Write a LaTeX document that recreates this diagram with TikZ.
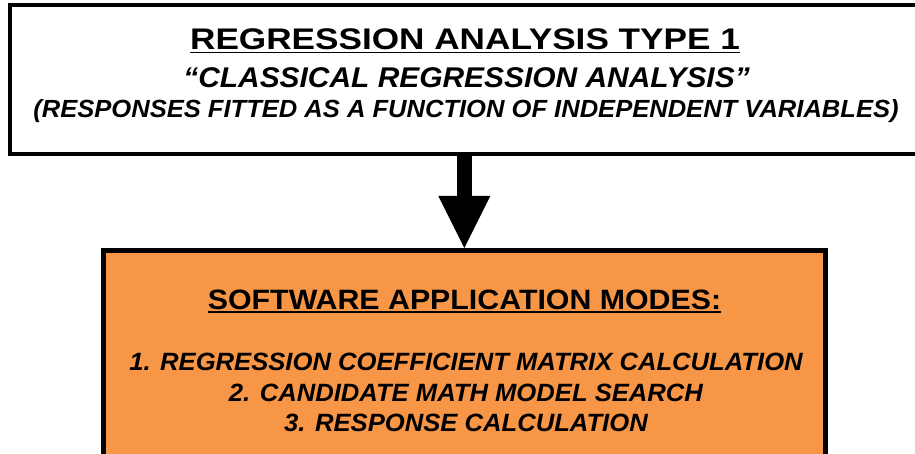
\documentclass[tikz,border=0pt]{standalone}
\usepackage{fontspec}
\setmainfont{Liberation Sans}
\usepackage{graphicx}
\definecolor{modeorange}{HTML}{F79646}
% heading underline: a rule under the whole line
\newcommand\hdline[1]{\setbox0\hbox{#1}\rlap{\rule[-3.9pt]{\wd0}{1.7pt}}\box0}
\tikzset{
  frame/.style={draw=black, line width=4.6pt, inner sep=0pt},
  txt/.style={inner sep=0pt, anchor=base, text=black},
  flow/.style={line width=15pt, -{Triangle[width=52pt,length=52pt,line width=0pt]}}
}
\usetikzlibrary{arrows.meta,calc}
\begin{document}
\begin{tikzpicture}[x=1pt,y=-1pt]
\useasboundingbox (0,0) rectangle (915,454);
% upper box (runs past the right edge)
\node[frame, fill=white, minimum width=920pt, minimum height=149pt] (typebox) at (470,79.5) {};
% lower box (runs past the bottom edge)
\node[frame, fill=modeorange, line width=5pt, minimum width=721.5pt, minimum height=219.5pt] (modebox) at (464.25,360.25) {};
% upper box text
\node[txt] (ttl) at (465,49.5) {\scalebox{1.18}[1]{\fontsize{29.8}{30}\selectfont\bfseries\hdline{REGRESSION ANALYSIS TYPE 1}}};
\node[txt] (sub) at (466.5,88) {\scalebox{1.05}[1]{\fontsize{28.5}{29}\selectfont\bfseries\itshape “CLASSICAL REGRESSION ANALYSIS”}};
\node[txt] (note) at (466,117.5) {\scalebox{1.03}[1]{\fontsize{24.8}{26}\selectfont\bfseries\itshape (RESPONSES FITTED AS A FUNCTION OF INDEPENDENT VARIABLES)}};
% lower box text
\node[txt] (modes) at (464.5,309) {\scalebox{1.083}[1]{\fontsize{28}{29}\selectfont\bfseries\hdline{SOFTWARE APPLICATION MODES:}}};
\node[txt] (m1) at (466,370.5) {\scalebox{1.025}[1]{\fontsize{25}{26}\selectfont\bfseries\itshape 1. REGRESSION COEFFICIENT MATRIX CALCULATION}};
\node[txt] (m2) at (466,401.5) {\scalebox{1.025}[1]{\fontsize{25}{26}\selectfont\bfseries\itshape 2. CANDIDATE MATH MODEL SEARCH}};
\node[txt] (m3) at (466,431.5) {\scalebox{1.025}[1]{\fontsize{25}{26}\selectfont\bfseries\itshape 3. RESPONSE CALCULATION}};
% connector
\draw[flow] (typebox.south -| modebox.north) -- (modebox.north);
\end{tikzpicture}
\end{document}
